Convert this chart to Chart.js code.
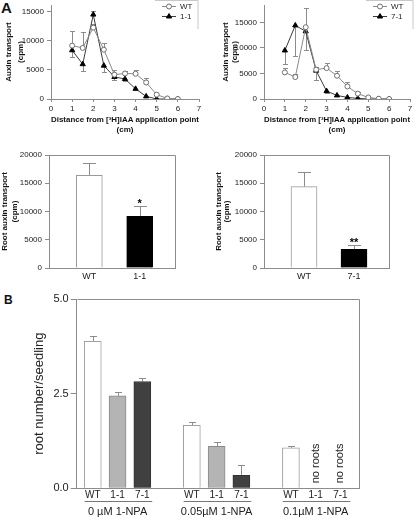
<!DOCTYPE html>
<html>
<head>
<meta charset="utf-8">
<script src="https://cdn.jsdelivr.net/npm/chart.js@4.4.1/dist/chart.umd.min.js"></script>
<style>
  body { margin: 0; background: #fff; width: 415px; height: 519px; position: relative; overflow: hidden;
         font-family: "Liberation Sans", Arial, sans-serif; }
  canvas { position: absolute; }
  .panel { position: absolute; font-weight: bold; color: #111; }
</style>
</head>
<body>
<div class="panel" style="left:1px;top:-1px;font-size:15px">A</div>
<div class="panel" style="left:4px;top:293px;font-size:12px">B</div>
<canvas id="lineA1" width="205" height="140" style="left:0;top:0"></canvas>
<canvas id="lineA2" width="210" height="140" style="left:205px;top:0"></canvas>
<canvas id="rootA1" width="205" height="145" style="left:0;top:140px"></canvas>
<canvas id="rootA2" width="210" height="145" style="left:205px;top:140px"></canvas>
<canvas id="rootsB" width="415" height="234" style="left:0;top:285px"></canvas>
<script>
// --- Données ---
// distance depuis le point d'application (cm)
const distance = [1, 1.5, 2, 2.5, 3, 3.5, 4, 4.5, 5, 5.5, 6];
const cpmTicks = [0, 5000, 10000, 15000];

// panneau A, haut gauche : WT vs 1-1 (erreurs signées : + vers le haut, - vers le bas)
const wtLeft = [9200, 8800, 12300, 8500, 4200, 4400, 4350, 2850, 750, 100, 0];
const wtLeftErr = [2500, 2700, 700, 1150, 750, 450, 700, 700, 0, 0, 0];
const line11 = [8400, 6000, 14550, 5750, 3800, 3450, 1750, 450, 0, 0, 0];
const line11Err = [-1100, -1200, 600, -1100, -500, -400, 0, 0, 0, 0, 0];

// panneau A, haut droite : WT vs 7-1
const wtRight = [5200, 4300, 14050, 5750, 6050, 4550, 2450, 1050, 300, 60, 0];
const wtRightErr = [900, 650, 3750, 500, 950, 950, 800, 250, 0, 0, 0];
const line71 = [9500, 14400, 13250, 5550, 1550, 700, 300, 120, 0, 0, 0];
const line71Err = [-2600, -5900, -3750, -1800, -350, 0, 0, 0, 0, 0, 0];

// panneau A, barres : transport racinaire
const rootTicks = [0, 5000, 10000, 15000, 20000];
const rootLabels1 = ['WT', '1-1'];
const rootValues1 = [16400, 9150];
const rootErr1 = [2150, 1850];
const rootSig1 = ['', '*'];
const rootLabels2 = ['WT', '7-1'];
const rootValues2 = [14400, 3300];
const rootErr2 = [2650, 850];
const rootSig2 = ['', '**'];

// panneau B : nombre de racines / plantule
const seedlingTicks = [0, 2.5, 5];
const npaGroups = ['0 \u00b5M 1-NPA', '0.05\u00b5M 1-NPA', '0.1\u00b5M 1-NPA'];
const genotypes = ['WT', '1-1', '7-1'];
const rootsWT = [3.88, 1.66, 1.07];
const rootsWTErr = [0.13, 0.08, 0.06];
const roots11 = [2.44, 1.11, null];
const roots11Err = [0.1, 0.11, 0];
const roots71 = [2.82, 0.34, null];
const roots71Err = [0.09, 0.28, 0];

const FONT = '"Liberation Sans", Arial, sans-serif';
const AXIS = '#8c8c8c';

// barres d'erreur dessinées via l'échelle y
const errorBars = {
  id: 'errorBars',
  beforeDatasetsDraw(chart) {
    const { ctx, scales: { y } } = chart;
    chart.data.datasets.forEach((ds, di) => {
      if (!ds.errors) return;
      const meta = chart.getDatasetMeta(di);
      const cap = ds.errCap || 2.5;
      ctx.save();
      ctx.strokeStyle = ds.errColor || '#8c8c8c';
      ctx.lineWidth = 1;
      meta.data.forEach((el, i) => {
        const raw = ds.data[i];
        const v = raw && typeof raw === 'object' ? raw.y : raw;
        const e = ds.errors[i];
        if (v == null || !e) return;
        const px = Math.round(el.x) + 0.5;
        const y0 = y.getPixelForValue(v);
        const y1 = Math.round(y.getPixelForValue(v + e)) + 0.5;
        ctx.beginPath();
        ctx.moveTo(px, y0);
        ctx.lineTo(px, y1);
        ctx.moveTo(px - cap, y1);
        ctx.lineTo(px + cap, y1);
        ctx.stroke();
      });
      ctx.restore();
    });
  }
};

// cadre (haut + droite) autour de la zone du graphique
const frame = {
  id: 'frame',
  afterDraw(chart) {
    const { ctx, chartArea: a } = chart;
    const l = Math.round(a.left) + 0.5, t = Math.round(a.top) + 0.5;
    const r = Math.round(a.right) + 0.5, b = Math.round(a.bottom) + 0.5;
    ctx.save();
    ctx.strokeStyle = AXIS;
    ctx.lineWidth = 1;
    ctx.beginPath();
    ctx.moveTo(l, t);
    ctx.lineTo(r, t);
    ctx.lineTo(r, b);
    ctx.stroke();
    ctx.restore();
  }
};

// petite légende en haut à droite des courbes
function miniLegend(names, boxRight) {
  return {
    id: 'miniLegend',
    afterDraw(chart) {
      const { ctx, chartArea: a } = chart;
      ctx.save();
      ctx.strokeStyle = '#c8c8c8';
      ctx.lineWidth = 1;
      ctx.beginPath();
      ctx.moveTo(a.right - 44, 0.5);
      ctx.lineTo(a.right + boxRight, 0.5);
      ctx.lineTo(a.right + boxRight, 29);
      ctx.stroke();
      names.forEach((name, i) => {
        const ds = chart.data.datasets[i];
        const y = 6.5 + i * 10;
        ctx.strokeStyle = ds.borderColor;
        ctx.beginPath();
        ctx.moveTo(a.right - 37, y);
        ctx.lineTo(a.right - 23, y);
        ctx.stroke();
        ctx.fillStyle = ds.pointBackgroundColor;
        ctx.strokeStyle = ds.pointBorderColor;
        Chart.helpers.drawPoint(ctx, { pointStyle: ds.pointStyle, radius: ds.pointRadius, borderWidth: 1, rotation: 0 }, a.right - 30, y);
        ctx.fillStyle = '#222';
        ctx.font = '8px ' + FONT;
        ctx.textBaseline = 'middle';
        ctx.fillText(name, a.right - 19, y + 0.5);
      });
      ctx.restore();
    }
  };
}

// astérisques de significativité au-dessus des barres
function sigStars(sig) {
  return {
    id: 'sigStars',
    afterDatasetsDraw(chart) {
      const { ctx, scales: { y } } = chart;
      const ds = chart.data.datasets[0];
      const meta = chart.getDatasetMeta(0);
      ctx.save();
      ctx.fillStyle = '#000';
      ctx.font = 'bold 11px ' + FONT;
      ctx.textAlign = 'center';
      ctx.textBaseline = 'alphabetic';
      meta.data.forEach((el, i) => {
        if (!sig[i]) return;
        const top = y.getPixelForValue(ds.data[i].y + ds.errors[i]);
        ctx.fillText(sig[i], el.x, top + 1);
      });
      ctx.restore();
    }
  };
}

const fixedTicks = values => s => { s.ticks = values.map(v => ({ value: v })); };

function lineChart(id, wt, wtErr, mut, mutErr, mutName, yMax, yWidth, padRight, titlePad, titleLH) {
  new Chart(document.getElementById(id), {
    type: 'line',
    data: {
      datasets: [
        {
          label: 'WT',
          data: distance.map((d, i) => ({ x: d, y: wt[i] })),
          errors: wtErr,
          borderColor: '#8a8a8a', borderWidth: 1,
          pointStyle: 'circle', pointRadius: 2.5,
          pointBackgroundColor: '#fff', pointBorderColor: '#6e6e6e', pointBorderWidth: 1
        },
        {
          label: mutName,
          data: distance.map((d, i) => ({ x: d, y: mut[i] })),
          errors: mutErr,
          borderColor: '#3c3c3c', borderWidth: 1,
          pointStyle: 'triangle', pointRadius: 3,
          pointBackgroundColor: '#000', pointBorderColor: '#000', pointBorderWidth: 1
        }
      ]
    },
    options: {
      responsive: false,
      animation: false,
      layout: { padding: { top: 1, right: padRight, left: 0, bottom: 0 } },
      plugins: { legend: { display: false }, tooltip: { enabled: false } },
      scales: {
        x: {
          type: 'linear', min: 0, max: 7,
          afterBuildTicks: fixedTicks([0, 1, 2, 3, 4, 5, 6, 7]),
          afterFit: s => { s.height = 41; s.paddingLeft = 0; s.paddingRight = 0; },
          ticks: { padding: 2, color: '#222', font: { family: FONT, size: 8 }, callback: v => String(v) },
          grid: { drawOnChartArea: false, tickLength: 3, color: AXIS },
          border: { color: AXIS },
          title: {
            display: true,
            text: ['Distance from [\u00b3H]IAA application point', '(cm)'],
            color: '#111', padding: { top: 0, bottom: 5 },
            font: { family: FONT, size: 8, weight: 'bold', lineHeight: 1.25 }
          }
        },
        y: {
          min: 0, max: yMax,
          afterBuildTicks: fixedTicks(cpmTicks),
          afterFit: s => { s.width = yWidth; s.paddingTop = 0; s.paddingBottom = 0; },
          ticks: { padding: 3, color: '#222', font: { family: FONT, size: 8 }, callback: v => String(v) },
          grid: { drawOnChartArea: false, tickLength: 4, color: AXIS },
          border: { color: AXIS },
          title: {
            display: true, text: ['Auxin transport', '(cpm)'],
            color: '#111', padding: { top: titlePad, bottom: 0 },
            font: { family: FONT, size: 8, weight: 'bold', lineHeight: titleLH }
          }
        }
      }
    },
    plugins: [errorBars, miniLegend(['WT', mutName], id === 'lineA1' ? -1 : 3)]
  });
}

function rootChart(id, labels, values, errs, sig, yWidth, padRight, titlePad, titleLH) {
  new Chart(document.getElementById(id), {
    type: 'bar',
    data: {
      datasets: [{
        data: values.map((v, i) => ({ x: i, y: v })),
        errors: errs, errCap: 6.5,
        backgroundColor: ['#fff', '#000'],
        borderColor: ['#9a9a9a', '#000'],
        borderWidth: 1, barThickness: 26
      }]
    },
    options: {
      responsive: false,
      animation: false,
      layout: { padding: { top: 15, right: padRight, left: 0, bottom: 0 } },
      plugins: { legend: { display: false }, tooltip: { enabled: false } },
      scales: {
        x: {
          type: 'linear', min: -0.8, max: 1.7, offset: false,
          afterBuildTicks: fixedTicks(labels.map((l, i) => i)),
          afterFit: s => { s.height = 17; s.paddingLeft = 0; s.paddingRight = 0; },
          ticks: { callback: v => labels[v], autoSkip: false, maxRotation: 0, padding: 3,
                   color: '#222', font: { family: FONT, size: 9 } },
          grid: { drawOnChartArea: false, drawTicks: false, color: AXIS },
          border: { color: AXIS }
        },
        y: {
          min: 0, max: 20000,
          afterBuildTicks: fixedTicks(rootTicks),
          afterFit: s => { s.width = yWidth; s.paddingTop = 0; s.paddingBottom = 0; },
          ticks: { padding: 3, color: '#222', font: { family: FONT, size: 8 }, callback: v => String(v) },
          grid: { drawOnChartArea: false, tickLength: 4, color: AXIS },
          border: { color: AXIS },
          title: {
            display: true, text: ['Root auxin transport', '(cpm)'],
            color: '#111', padding: { top: titlePad, bottom: 0 },
            font: { family: FONT, size: 8, weight: 'bold', lineHeight: titleLH }
          }
        }
      }
    },
    plugins: [errorBars, frame, sigStars(sig)]
  });
}

lineChart('lineA1', wtLeft, wtLeftErr, line11, line11Err, '1-1', 16200, 51, 6, 3.5, 1.4);
lineChart('lineA2', wtRight, wtRightErr, line71, line71Err, '7-1', 18400, 59, 2, 16.5, 1.1);
rootChart('rootA1', rootLabels1, rootValues1, rootErr1, rootSig1, 49, 30, 0, 1.25);
rootChart('rootA2', rootLabels2, rootValues2, rootErr2, rootSig2, 59, 26, 9, 1.1);

// --- panneau B ---
// position de chaque barre : groupe * 4 + génotype
const slotOf = (g, k) => g * 4 + k;

const groupLabels = {
  id: 'groupLabels',
  afterDraw(chart) {
    const { ctx, chartArea: a, scales: { x } } = chart;
    ctx.save();
    ctx.strokeStyle = '#777';
    ctx.lineWidth = 1;
    ctx.fillStyle = '#222';
    ctx.textAlign = 'center';
    ctx.textBaseline = 'middle';
    ctx.font = '11px ' + FONT;
    const yLine = Math.round(a.bottom + 12.4) + 0.5;
    npaGroups.forEach((g, gi) => {
      const x0 = x.getPixelForValue(slotOf(gi, 0) - 0.33);
      const x1 = x.getPixelForValue(slotOf(gi, 2) + 0.4);
      ctx.beginPath();
      ctx.moveTo(x0, yLine);
      ctx.lineTo(x1, yLine);
      ctx.stroke();
      ctx.fillText(g, x.getPixelForValue(slotOf(gi, 1)), a.bottom + 23.5);
    });
    // "no roots" là où il n'y a pas de valeur
    ctx.textAlign = 'left';
    [roots11, roots71].forEach((series, k) => {
      series.forEach((v, gi) => {
        if (v != null) return;
        const px = x.getPixelForValue(slotOf(gi, k + 1));
        ctx.save();
        ctx.translate(px, a.bottom - 5);
        ctx.rotate(-Math.PI / 2);
        ctx.fillText('no roots', 0, 0);
        ctx.restore();
      });
    });
    ctx.restore();
  }
};

new Chart(document.getElementById('rootsB'), {
  type: 'bar',
  data: {
    datasets: [
      { label: 'WT', data: rootsWT.map((v, g) => ({ x: slotOf(g, 0), y: v })), errors: rootsWTErr,
        backgroundColor: '#fff', borderColor: '#a0a0a0' },
      { label: '1-1', data: roots11.map((v, g) => ({ x: slotOf(g, 1), y: v })), errors: roots11Err,
        backgroundColor: '#b4b4b4', borderColor: '#8a8a8a' },
      { label: '7-1', data: roots71.map((v, g) => ({ x: slotOf(g, 2), y: v })), errors: roots71Err,
        backgroundColor: '#404040', borderColor: '#333' }
    ].map(d => Object.assign(d, { borderWidth: 1, barThickness: 17, grouped: false, errCap: 3.5 }))
  },
  options: {
    responsive: false,
    animation: false,
    layout: { padding: { top: 14, right: 56, left: 0, bottom: 0 } },
    plugins: { legend: { display: false }, tooltip: { enabled: false } },
    scales: {
      x: {
        type: 'linear', min: -0.65, max: 10.75, offset: false,
        afterBuildTicks: s => {
          const t = [];
          npaGroups.forEach((g, gi) => genotypes.forEach((n, k) => t.push({ value: slotOf(gi, k) })));
          s.ticks = t;
        },
        afterFit: s => { s.height = 30.7; s.paddingLeft = 0; s.paddingRight = 0; },
        ticks: { callback: v => genotypes[v % 4], autoSkip: false, maxRotation: 0, padding: 1,
                 color: '#222', font: { family: FONT, size: 10 } },
        grid: { drawOnChartArea: false, drawTicks: false, color: AXIS },
        border: { color: AXIS }
      },
      y: {
        min: 0, max: 5,
        afterBuildTicks: fixedTicks(seedlingTicks),
        afterFit: s => { s.width = 76.7; s.paddingTop = 0; s.paddingBottom = 0; },
        ticks: { padding: 2, color: '#222', font: { family: FONT, size: 11 },
                 callback: v => v.toFixed(1) },
        grid: { drawOnChartArea: false, tickLength: 6, color: AXIS },
        border: { color: AXIS },
        title: {
          display: true, text: 'root number/seedling', color: '#222',
          padding: { top: 32, bottom: 0 },
          font: { family: FONT, size: 13 }
        }
      }
    }
  },
  plugins: [errorBars, frame, groupLabels]
});
</script>
</body>
</html>
